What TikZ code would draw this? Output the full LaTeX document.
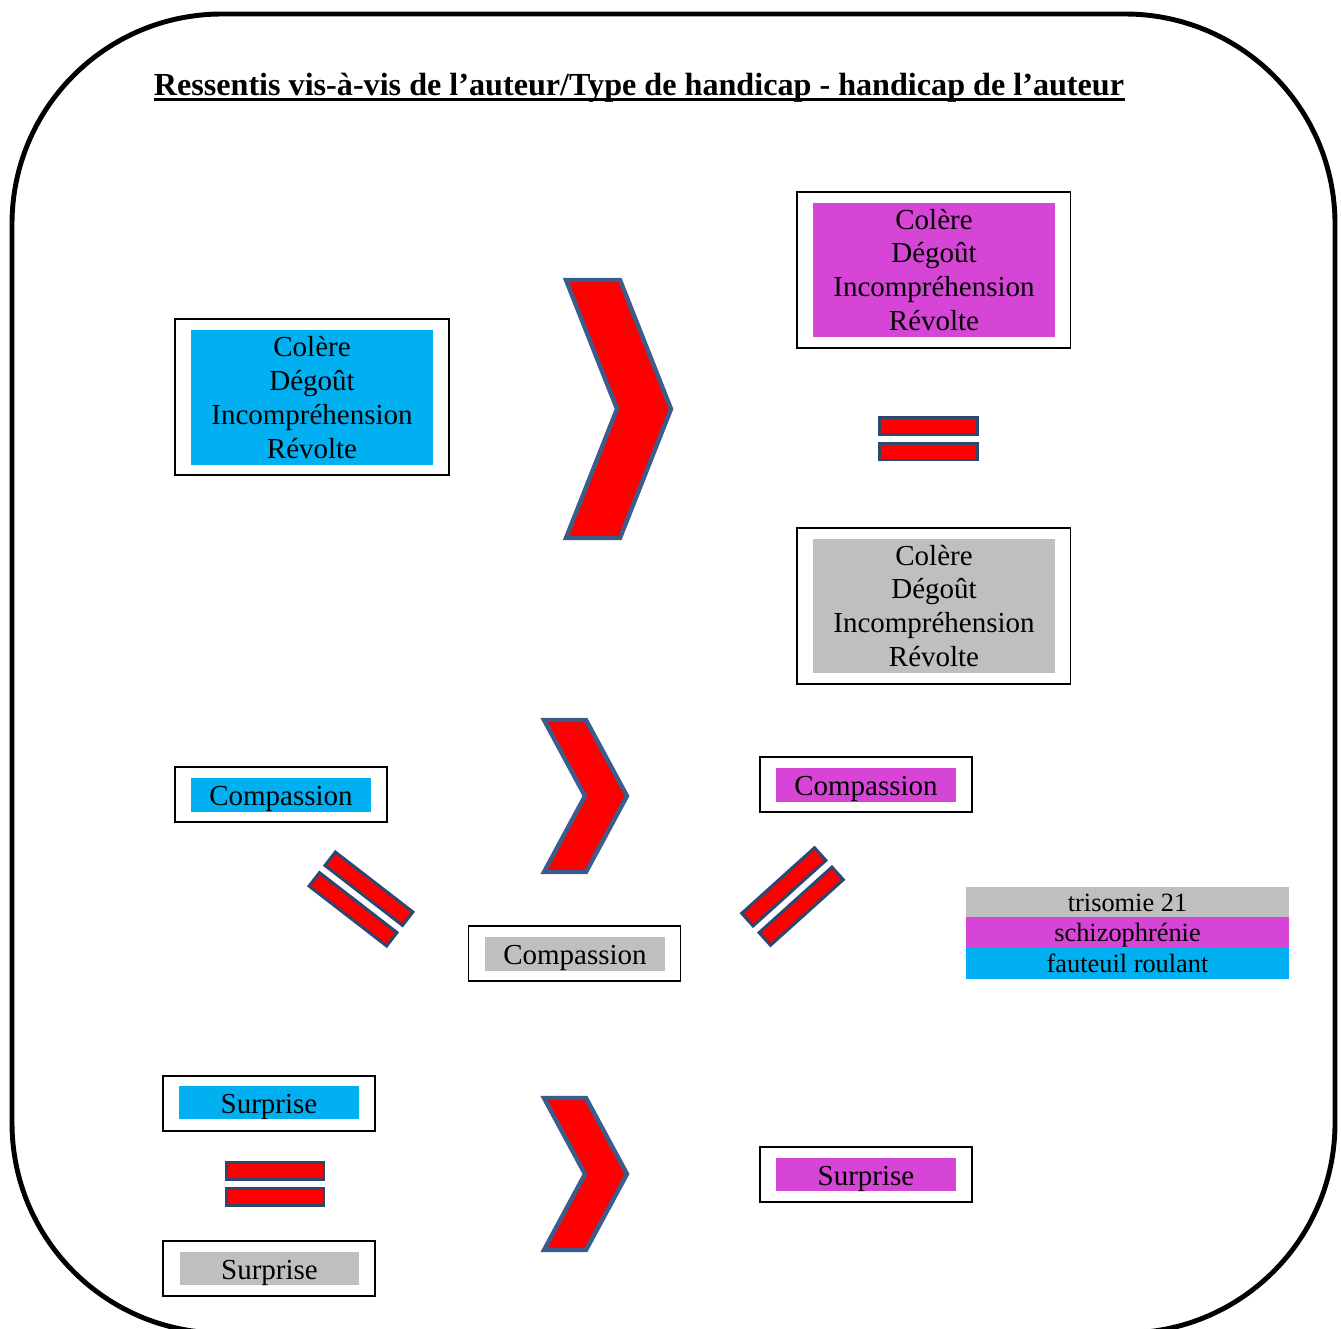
\documentclass[tikz,border=0pt]{standalone}
\usepackage{fontspec}
\setmainfont{Liberation Serif}
\definecolor{cblue}{HTML}{00B0F0}
\definecolor{cmag}{HTML}{D645D6}
\definecolor{cgray}{HTML}{BFBFBF}
\definecolor{cout}{HTML}{3C5C8C}
\definecolor{eqout}{HTML}{2C4770}
\definecolor{cred}{HTML}{FF0000}
\tikzset{
  frame/.style={draw=black, line width=1.1pt, inner sep=0pt},
  bigframe/.style={frame, minimum width=5.48cm, minimum height=3.12cm},
  smallframe/.style={frame, minimum width=4.24cm, minimum height=1.1cm},
  fillbig/.style={inner sep=0pt, minimum width=4.84cm, minimum height=2.7cm, align=center,
     font=\fontsize{16.5}{19.3}\selectfont},
  fillsmall/.style={inner sep=0pt, minimum width=3.6cm, minimum height=0.67cm,
     text height=12.4pt, text depth=0pt, font=\fontsize{16.5}{19.3}\selectfont},
  legend/.style={inner sep=0pt, minimum width=6.46cm, minimum height=0.61cm,
     text height=10.5pt, text depth=0pt, font=\fontsize{15}{17}\selectfont},
  eqbar/.style={draw=eqout, fill=cred, line width=1.7pt, inner sep=0pt,
     minimum width=1.96cm, minimum height=0.34cm},
  chev/.style={draw=cout, fill=cred, line width=2.5pt, line join=miter},
}
\begin{document}
\begin{tikzpicture}[x=0.02cm, y=-0.02cm]
\useasboundingbox (0,0) rectangle (1341,1328);
\clip (0,0) rectangle (1341,1328);
% outer rounded frame
\draw[line width=2.8pt, rounded corners=4.2cm] (12,14) rectangle (1335,1333);

% title
\node[inner sep=0pt, anchor=base, font=\fontsize{18.3}{22}\selectfont\bfseries] (title) at (639,95)
  {Ressentis vis-à-vis de l’auteur/Type de handicap - handicap de l’auteur};
\draw[line width=1.7pt] ([yshift=-2.6pt]title.base west) -- ([yshift=-2.6pt]title.base east);

% big boxes
\node[bigframe] (fr1) at (312,397) {};
\node[fillbig, fill=cblue] (in1) at (312,397.5) {Colère\\Dégoût\\Incompréhension\\Révolte};
\node[bigframe] (fr2) at (933.5,270) {};
\node[fillbig, fill=cmag] (in2) at (934,270) {Colère\\Dégoût\\Incompréhension\\Révolte};
\node[bigframe] (fr3) at (933.5,606) {};
\node[fillbig, fill=cgray] (in3) at (934,606) {Colère\\Dégoût\\Incompréhension\\Révolte};

% small boxes
\node[smallframe] (fr4) at (281,794.5) {};
\node[fillsmall, fill=cblue] (in4) at (281,795) {Compassion};
\node[smallframe] (fr5) at (866,784.5) {};
\node[fillsmall, fill=cmag] (in5) at (866,785) {Compassion};
\node[smallframe] (fr6) at (574.5,953.5) {};
\node[fillsmall, fill=cgray] (in6) at (575,954) {Compassion};
\node[smallframe] (fr7) at (269,1103.5) {};
\node[fillsmall, fill=cblue] (in7) at (269,1102.5) {Surprise};
\node[smallframe] (fr8) at (269,1268.5) {};
\node[fillsmall, fill=cgray] (in8) at (269.5,1268.5) {Surprise};
\node[smallframe] (fr9) at (866,1174.5) {};
\node[fillsmall, fill=cmag] (in9) at (866,1174.5) {Surprise};

% legend
\node[legend, fill=cgray] (lg1) at (1127.5,902) {trisomie 21};
\node[legend, fill=cmag] (lg2) at (1127.5,932) {schizophrénie};
\node[legend, fill=cblue, minimum height=0.64cm] (lg3) at (1127.5,963) {fauteuil roulant};

% chevrons
\draw[chev] (566,280) -- (620,280) -- (671,409) -- (620,538) -- (566,538) -- (617,409) -- cycle;
\draw[chev] (544,720) -- (586,720) -- (627,796) -- (586,872) -- (544,872) -- (585,796) -- cycle;
\draw[chev] (544,1098) -- (586,1098) -- (627,1174) -- (586,1250) -- (544,1250) -- (585,1174) -- cycle;

% equals signs
\node[eqbar] (eq1a) at (928.5,426) {};
\node[eqbar] (eq1b) at (928.5,451.5) {};
\node[eqbar] (eq4a) at (275,1171) {};
\node[eqbar] (eq4b) at (275,1197) {};
\begin{scope}[shift={(361,899)}, rotate=-37.7, every node/.append style={transform shape}]
  \node[eqbar] (eq2a) at (0,-13) {};
  \node[eqbar] (eq2b) at (0,13) {};
\end{scope}
\begin{scope}[shift={(792.5,896.5)}, rotate=42, every node/.append style={transform shape}]
  \node[eqbar] (eq3a) at (0,-13) {};
  \node[eqbar] (eq3b) at (0,13) {};
\end{scope}
\end{tikzpicture}
\end{document}
